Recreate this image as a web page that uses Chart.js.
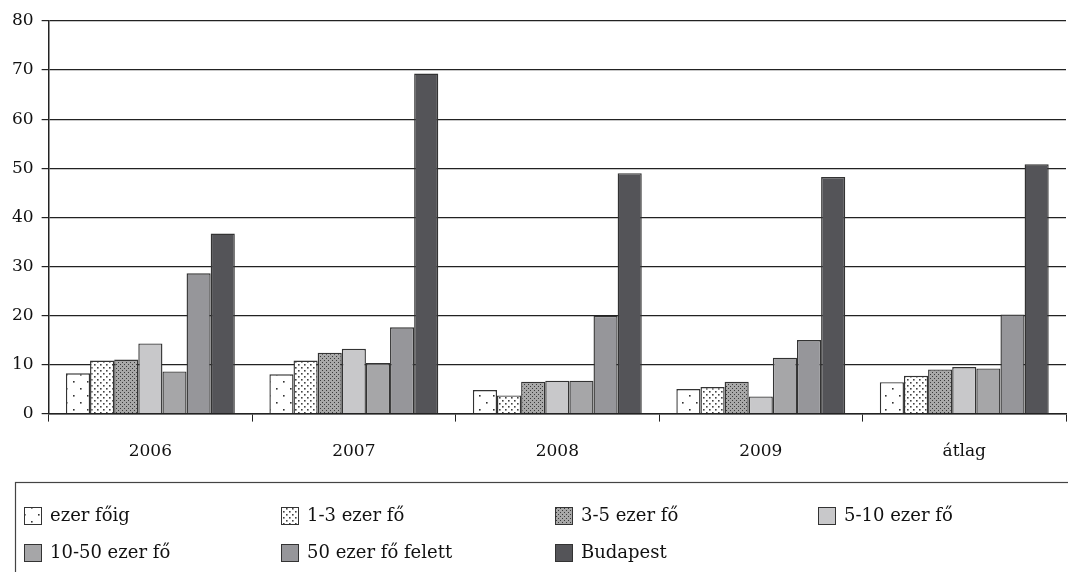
<!DOCTYPE html>
<html>
<head>
<meta charset="utf-8">
<script src="https://cdn.jsdelivr.net/npm/chart.js@4"></script>
<style>
  html, body { margin: 0; padding: 0; background: #fff; }
  #wrap { width: 1068px; height: 572px; position: relative; }
</style>
</head>
<body>
<div id="wrap"><canvas id="chart"></canvas></div>
<script>
// categories (x axis)
const years = ["2006", "2007", "2008", "2009", "átlag"];

// series values
const ezerFoig = [8.2, 8.0, 4.8, 5.0, 6.4];
const ezer1_3 = [10.8, 10.8, 3.7, 5.4, 7.7];
const ezer3_5 = [11.0, 12.4, 6.5, 6.5, 9.0];
const ezer5_10 = [14.3, 13.2, 6.7, 3.5, 9.5];
const ezer10_50 = [8.6, 10.3, 6.7, 11.4, 9.2];
const ezer50felett = [28.6, 17.6, 19.9, 15.0, 20.2];
const budapest = [36.7, 69.3, 49.0, 48.2, 50.8];

const seriesNames = ["ezer főig", "1-3 ezer fő", "3-5 ezer fő", "5-10 ezer fő",
  "10-50 ezer fő", "50 ezer fő felett", "Budapest"];

const FONT = "'DejaVu Serif', 'Liberation Serif', serif";

// small repeating fills for the dotted bars
function makePattern(size, bg, dotColor, dots, dot) {
  const c = document.createElement("canvas");
  c.width = size; c.height = size;
  const x = c.getContext("2d");
  x.fillStyle = bg;
  x.fillRect(0, 0, size, size);
  x.fillStyle = dotColor;
  dots.forEach(([a, b]) => x.fillRect(a, b, dot, dot));
  return x.createPattern(c, "repeat");
}

const sparseDots = makePattern(14, "#ffffff", "#333", [[3, 3], [10, 10]], 1.6);
const denseDots = makePattern(6, "#ffffff", "#444", [[1, 1], [4, 4]], 1.6);
const checker = makePattern(4, "#a8a8a8", "#3a3a3a", [[0, 0], [2, 2]], 1);

const fills = [sparseDots, denseDots, checker, "#c8c8ca", "#a6a6a8", "#96969a", "#545458"];
const values = [ezerFoig, ezer1_3, ezer3_5, ezer5_10, ezer10_50, ezer50felett, budapest];

// boxed legend in a 4-column grid under the x axis
const boxLegend = {
  id: "boxLegend",
  afterDraw(chart) {
    const ctx = chart.ctx;
    ctx.save();
    ctx.strokeStyle = "#444";
    ctx.lineWidth = 1.2;
    ctx.strokeRect(15.5, 482.5, 1060, 100);
    const colX = [24, 281, 555, 818];
    const rowY = [515, 552];
    ctx.font = "18px " + FONT;
    ctx.textBaseline = "middle";
    seriesNames.forEach((name, i) => {
      const x = colX[i % 4];
      const y = rowY[Math.floor(i / 4)];
      ctx.fillStyle = fills[i];
      ctx.fillRect(x, y - 8, 17, 17);
      ctx.strokeStyle = "#333";
      ctx.lineWidth = 1;
      ctx.strokeRect(x + 0.5, y - 7.5, 17, 17);
      ctx.fillStyle = "#111";
      ctx.fillText(name, x + 26, y + 1);
    });
    ctx.restore();
  }
};

new Chart(document.getElementById("chart"), {
  type: "bar",
  data: {
    labels: years,
    datasets: seriesNames.map((name, i) => ({
      label: name,
      data: values[i],
      backgroundColor: fills[i],
      borderColor: "#333",
      borderWidth: 1.4,
      categoryPercentage: 0.83,
      barPercentage: 1.0
    }))
  },
  options: {
    responsive: true,
    maintainAspectRatio: false,
    animation: false,
    layout: { padding: { top: 21, right: 2, bottom: 90, left: 4 } },
    plugins: {
      legend: { display: false },
      tooltip: { enabled: false }
    },
    scales: {
      x: {
        offset: true,
        grid: { offset: true, drawOnChartArea: false, color: "#222", tickLength: 8, lineWidth: 1 },
        border: { color: "#222", width: 1.5 },
        ticks: { color: "#111", font: { family: FONT, size: 17 }, padding: 20 }
      },
      y: {
        min: 0,
        max: 80,
        ticks: { stepSize: 10, color: "#111", font: { family: FONT, size: 17 }, padding: 8 },
        grid: { color: "#222", lineWidth: 1.2, tickLength: 7 },
        border: { color: "#222", width: 1.5 }
      }
    }
  },
  plugins: [boxLegend]
});
</script>
</body>
</html>
